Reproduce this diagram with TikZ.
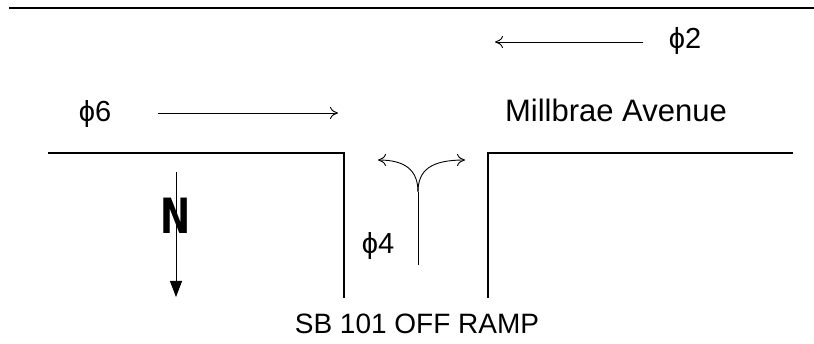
\documentclass[tikz,border=0pt]{standalone}
\usepackage{fontspec}
\setmainfont{Liberation Sans}
\newfontfamily\nfont{DejaVu Sans}
\usetikzlibrary{arrows.meta}
\begin{document}
\begin{tikzpicture}[x=1pt,y=-1pt,
  road/.style={line width=1.8pt, line cap=rect},
  thin/.style={line width=0.9pt},
  flow/.style={thin, -{To[length=8pt,width=12pt]}},
  lbl/.style={inner sep=0pt, font=\fontsize{29}{31}\selectfont}]
\useasboundingbox (0,0) rectangle (814,344);
% top line
\coordinate (t1) at (10,8);
\coordinate (t2) at (813,8);
\draw[road] (t1) -- (t2);
% road edges
\coordinate (l1) at (49,153);
\coordinate (l2) at (344,153);
\coordinate (l3) at (344,297);
\draw[road] (l1) -- (l2) -- (l3);
\coordinate (r1) at (488,297);
\coordinate (r2) at (488,153);
\coordinate (r3) at (792,153);
\draw[road] (r1) -- (r2) -- (r3);
% phi2
\coordinate (a2s) at (643,42);
\coordinate (a2e) at (495,42);
\draw[flow] (a2s) -- (a2e);
\node[lbl] (p2) at (685,41) {ϕ2};
% phi6
\node[lbl] (p6) at (95,114) {ϕ6};
\coordinate (a6s) at (158,113);
\coordinate (a6e) at (338,113);
\draw[flow] (a6s) -- (a6e);
% Millbrae
\node[lbl, font=\fontsize{31}{33}\selectfont] (mb) at (616,110) {Millbrae Avenue};
% North arrow
\coordinate (ns) at (176,172);
\coordinate (ne) at (176,297);
\draw[thin, -{Triangle[length=16pt,width=12pt]}] (ns) -- (ne);
\node[inner sep=0pt, font=\nfont\bfseries\fontsize{36}{36}\selectfont, yscale=1.35] (nn) at (176,216) {N};
% phi4
\node[lbl] (p4) at (378,246) {ϕ4};
% fork
\coordinate (fb) at (418,265);
\coordinate (fm) at (418,192);
\coordinate (fl) at (378,160);
\coordinate (fr) at (465,160);
\draw[thin] (fb) -- (fm);
\draw[flow] (fm) .. controls (418,170) and (405,160) .. (fl);
\draw[flow] (fm) .. controls (418,170) and (431,160) .. (fr);
% ramp label
\node[lbl, font=\fontsize{28}{30}\selectfont] (sb) at (417,324) {SB 101 OFF RAMP};
\end{tikzpicture}
\end{document}
